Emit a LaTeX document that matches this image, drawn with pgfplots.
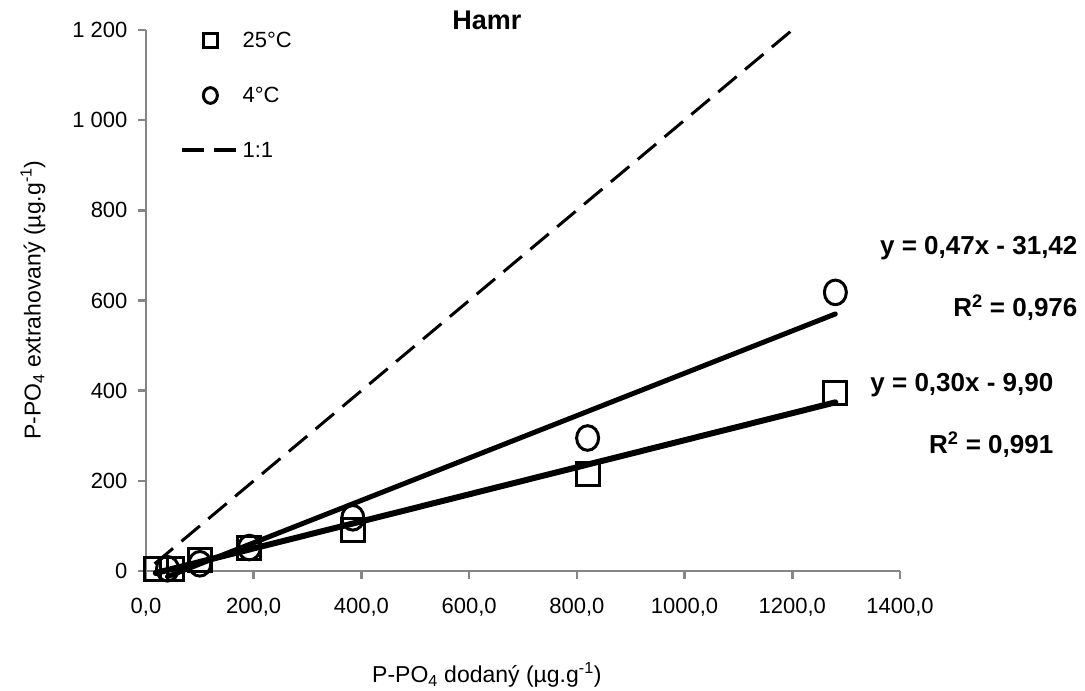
\documentclass[border=0pt]{standalone}
\usepackage{fontspec}
\setmainfont{Liberation Sans}
\usepackage{pgfplots}
\pgfplotsset{compat=1.18}
\definecolor{axgray}{RGB}{134,134,134}

\begin{document}
\begin{tikzpicture}
\useasboundingbox (-146pt,-120pt) rectangle (939pt,571pt);
\begin{axis}[
  at={(0,0)}, anchor=south west,
  scale only axis, width=754pt, height=541pt,
  xmin=0, xmax=1400, ymin=0, ymax=1200,
  axis x line=bottom, axis y line=left,
  axis line style={axgray, line width=2.5pt, -},
  tick style={axgray, line width=2.5pt},
  major tick length=8pt, tick align=outside,
  xtick={0,200,...,1400}, ytick={0,200,...,1200},
  xticklabels={{0,0},{200,0},{400,0},{600,0},{800,0},{1000,0},{1200,0},{1400,0}},
  yticklabels={0,200,400,600,800,{1\ 000},{1\ 200}},
  ticklabel style={font=\fontsize{22}{24}\selectfont, black},
  xticklabel style={yshift=-16pt},
  yticklabel style={xshift=-7pt},
  xlabel={P-PO\textsubscript{4} dodaný (µg.g\textsuperscript{-1})},
  ylabel={P-PO\textsubscript{4} extrahovaný (µg.g\textsuperscript{-1})},
  label style={font=\fontsize{23}{25}\selectfont},
  xlabel style={at={(axis description cs:0.452,-0.192)}, anchor=center},
  ylabel style={at={(axis description cs:-0.150,0.501)}, anchor=center},
  legend style={draw=none, fill=none, at={(axis description cs:0.045,1.0)}, anchor=north west,
    font=\fontsize{22}{24}\selectfont, row sep=34pt, inner sep=0pt},
  legend cell align=left,
  clip=false,
]
% 25 C
\addplot[only marks, mark=square, mark size=11.5pt, line width=3pt, black,
  legend image code/.code={\path (0pt,0pt) (54pt,0pt); \draw[black, mark=square, mark size=7pt, line width=3pt] plot coordinates {(28pt,0pt)};}]
  coordinates {(18,5)(48,5)(100,25)(192,50)(384,90)(820,215)(1280,395)};
\addlegendentry{25°C}
% 4 C
\addplot[only marks, mark=o, mark size=11pt, line width=3pt, black, mark options={yscale=1.12},
  legend image code/.code={\path (0pt,0pt) (54pt,0pt); \draw[black, mark=o, mark size=7pt, line width=3pt] plot coordinates {(28pt,0pt)};}]
  coordinates {(40,5)(100,16)(192,52)(384,118)(820,295)(1280,618)};
\addlegendentry{4°C}
% 1:1
\addplot[black, line width=3pt, dash pattern=on 24pt off 11pt,
  legend image code/.code={\draw[black, line width=4.5pt, dash pattern=on 22pt off 10pt] (0pt,0pt) -- (56pt,0pt);}]
  coordinates {(16,16)(1200,1200)};
\addlegendentry{1:1}
% trend lines
\addplot[black, line width=5pt, line cap=round, forget plot] coordinates {(40,-12.6)(1280,570.2)};
\addplot[black, line width=6pt, line cap=round, forget plot] coordinates {(18,-4.5)(1280,374.1)};

\node[font=\bfseries\fontsize{27}{29}\selectfont] at (axis description cs:0.452,1.018) {Hamr};
\node[font=\bfseries\fontsize{26}{28}\selectfont, anchor=east] at (axis description cs:1.240,0.597) {y = 0,47x - 31,42};
\node[font=\bfseries\fontsize{26}{28}\selectfont, anchor=east] at (axis description cs:1.240,0.486) {R\textsuperscript{2} = 0,976};
\node[font=\bfseries\fontsize{26}{28}\selectfont, anchor=east] at (axis description cs:1.208,0.344) {y = 0,30x - 9,90};
\node[font=\bfseries\fontsize{26}{28}\selectfont, anchor=east] at (axis description cs:1.208,0.233) {R\textsuperscript{2} = 0,991};
\end{axis}
\end{tikzpicture}
\end{document}
